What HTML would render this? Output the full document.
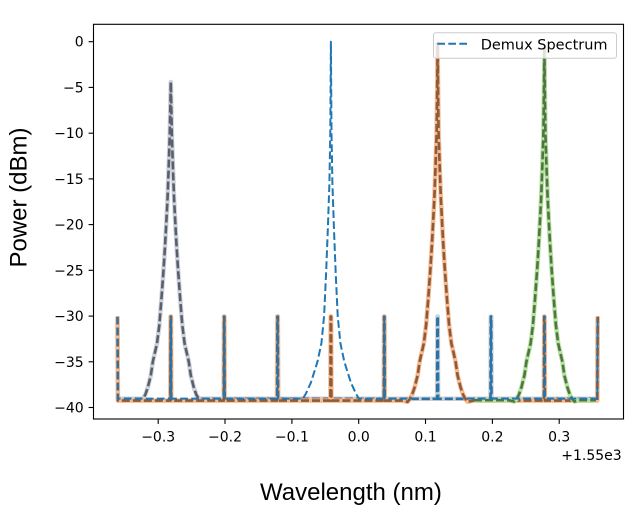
<!DOCTYPE html>
<html>
<head>
<meta charset="utf-8">
<style>
html,body{margin:0;padding:0;background:#fff;}
svg{display:block;}
.tk{font-family:"DejaVu Sans","Liberation Sans",sans-serif;font-size:14px;fill:#000;}
.lab{font-family:"Liberation Sans",Arial,sans-serif;font-size:24px;fill:#000;}
</style>
</head>
<body>
<svg width="640" height="516" viewBox="0 0 640 516" xmlns="http://www.w3.org/2000/svg">
<rect x="0" y="0" width="640" height="516" fill="#fff"/>

<!-- Gray channel -->
<g fill="none" stroke-linejoin="round">
<path d="M117.5 316.5 L117.9 398.8 L142.8 398.8 L145.3 394.7 L147.8 387.4 L150.8 375.5 L152.8 361.8 L157.0 343.5 L159.3 325.2 L161.3 300.5 L163.5 270.3 L165.0 246.5 L166.2 224.6 L167.6 197.2 L168.6 169.7 L169.8 133.2 L170.8 82 L171.8 133.2 L173.0 169.7 L174.0 197.2 L175.4 224.6 L176.6 246.5 L178.1 270.3 L180.3 300.5 L182.3 325.2 L184.6 343.5 L188.8 361.8 L190.8 375.5 L193.8 387.4 L196.3 394.7 L198.8 398.8 L277.1 398.8 L277.4 316.5 L277.8 316.5 L278.1 398.8 L437.1 398.8 L437.4 316.5 L437.8 316.5 L438.1 398.8 L490.5 398.8 L490.8 316.5 L491.2 316.5 L491.5 398.8 L597.3 398.8 L597.7 316.5" stroke="#ccd2dc" stroke-width="4.5"/>
<path d="M117.5 316.5 L117.9 398.8 L142.8 398.8 L145.3 394.7 L147.8 387.4 L150.8 375.5 L152.8 361.8 L157.0 343.5 L159.3 325.2 L161.3 300.5 L163.5 270.3 L165.0 246.5 L166.2 224.6 L167.6 197.2 L168.6 169.7 L169.8 133.2 L170.8 82 L171.8 133.2 L173.0 169.7 L174.0 197.2 L175.4 224.6 L176.6 246.5 L178.1 270.3 L180.3 300.5 L182.3 325.2 L184.6 343.5 L188.8 361.8 L190.8 375.5 L193.8 387.4 L196.3 394.7 L198.8 398.8 L277.1 398.8 L277.4 316.5 L277.8 316.5 L278.1 398.8 L437.1 398.8 L437.4 316.5 L437.8 316.5 L438.1 398.8 L490.5 398.8 L490.8 316.5 L491.2 316.5 L491.5 398.8 L597.3 398.8 L597.7 316.5" stroke="#5a5f69" stroke-width="2.6" stroke-dasharray="8 3"/>
</g>

<!-- Orange channel -->
<g fill="none" stroke-linejoin="round">
<path d="M117.5 316.5 L117.9 400.6 L170.3 400.6 L170.6 316.5 L171.0 316.5 L171.3 400.6 L223.7 400.6 L224.0 316.5 L224.4 316.5 L224.7 400.6 L277.1 400.6 L277.4 316.5 L277.8 316.5 L278.1 400.6 L330.4 400.6 L330.7 316.5 L331.1 316.5 L331.4 400.6 L383.8 400.6 L384.1 316.5 L384.5 316.5 L384.8 400.6 L401.6 400.6 L407.6 401.8 L409.6 399.3 L412.1 394.7 L414.6 387.4 L417.6 375.5 L419.6 361.8 L423.8 343.5 L426.1 325.2 L428.1 300.5 L430.3 270.3 L431.8 246.5 L433.0 224.6 L434.4 197.2 L435.4 169.7 L436.6 133.2 L437.2 87.4 L437.6 43.5 L438.0 87.4 L438.6 133.2 L439.8 169.7 L440.8 197.2 L442.2 224.6 L443.4 246.5 L444.9 270.3 L447.1 300.5 L449.1 325.2 L451.4 343.5 L455.6 361.8 L457.6 375.5 L460.6 387.4 L463.1 394.7 L465.6 399.3 L467.6 401.8 L473.6 400.6 L543.9 400.6 L544.2 316.5 L544.6 316.5 L544.9 400.6 L597.3 400.6 L597.7 316.5" stroke="#f7bb91" stroke-width="4.5"/>
<path d="M117.5 316.5 L117.9 400.6 L170.3 400.6 L170.6 316.5 L171.0 316.5 L171.3 400.6 L223.7 400.6 L224.0 316.5 L224.4 316.5 L224.7 400.6 L277.1 400.6 L277.4 316.5 L277.8 316.5 L278.1 400.6 L330.4 400.6 L330.7 316.5 L331.1 316.5 L331.4 400.6 L383.8 400.6 L384.1 316.5 L384.5 316.5 L384.8 400.6 L401.6 400.6 L407.6 401.8 L409.6 399.3 L412.1 394.7 L414.6 387.4 L417.6 375.5 L419.6 361.8 L423.8 343.5 L426.1 325.2 L428.1 300.5 L430.3 270.3 L431.8 246.5 L433.0 224.6 L434.4 197.2 L435.4 169.7 L436.6 133.2 L437.2 87.4 L437.6 43.5 L438.0 87.4 L438.6 133.2 L439.8 169.7 L440.8 197.2 L442.2 224.6 L443.4 246.5 L444.9 270.3 L447.1 300.5 L449.1 325.2 L451.4 343.5 L455.6 361.8 L457.6 375.5 L460.6 387.4 L463.1 394.7 L465.6 399.3 L467.6 401.8 L473.6 400.6 L543.9 400.6 L544.2 316.5 L544.6 316.5 L544.9 400.6 L597.3 400.6 L597.7 316.5" stroke="#8d5a3a" stroke-width="2.6" stroke-dasharray="8 3"/>
</g>

<!-- Green channel -->
<g fill="none" stroke-linejoin="round">
<path d="M474 400.2 L508.4 400.2 L514.4 401.5 L516.4 399.3 L518.9 394.7 L521.4 387.4 L524.4 375.5 L526.4 361.8 L530.6 343.5 L532.9 325.2 L534.9 300.5 L537.1 270.3 L538.6 246.5 L539.8 224.6 L541.2 197.2 L542.2 169.7 L543.4 133.2 L544.0 87.4 L544.4 48 L544.8 87.4 L545.4 133.2 L546.6 169.7 L547.6 197.2 L549.0 224.6 L550.2 246.5 L551.7 270.3 L553.9 300.5 L555.9 325.2 L558.2 343.5 L562.4 361.8 L564.4 375.5 L567.4 387.4 L569.9 394.7 L572.4 399.3 L574.4 401.5 L580.4 400.2 L596 400.2" stroke="#b2e49a" stroke-width="4.5"/>
<path d="M474 400.2 L508.4 400.2 L514.4 401.5 L516.4 399.3 L518.9 394.7 L521.4 387.4 L524.4 375.5 L526.4 361.8 L530.6 343.5 L532.9 325.2 L534.9 300.5 L537.1 270.3 L538.6 246.5 L539.8 224.6 L541.2 197.2 L542.2 169.7 L543.4 133.2 L544.0 87.4 L544.4 48 L544.8 87.4 L545.4 133.2 L546.6 169.7 L547.6 197.2 L549.0 224.6 L550.2 246.5 L551.7 270.3 L553.9 300.5 L555.9 325.2 L558.2 343.5 L562.4 361.8 L564.4 375.5 L567.4 387.4 L569.9 394.7 L572.4 399.3 L574.4 401.5 L580.4 400.2 L596 400.2" stroke="#54724a" stroke-width="2.6" stroke-dasharray="8 3"/>
</g>

<!-- Blue demux spectrum -->
<path d="M117.5 316.5 L117.9 398.6 L170.3 398.6 L170.6 316.5 L171.0 316.5 L171.3 398.6 L223.7 398.6 L224.0 316.5 L224.4 316.5 L224.7 398.6 L277.1 398.6 L277.4 316.5 L277.8 316.5 L278.1 398.6 L302.9 398.6 L305.9 393.6 L310.9 382.6 L317.5 361.6 L321.4 343.3 L324.1 315.9 L326.1 273.0 L327.8 230.0 L329.4 183.4 L330.3 133.1 L330.6 87.4 L330.9 41.7 L331.2 87.4 L331.5 133.1 L332.4 183.4 L334.0 230.0 L335.7 273.0 L337.7 315.9 L340.4 343.3 L344.3 361.6 L350.9 382.6 L355.9 393.6 L358.9 398.6 L383.8 398.6 L384.1 316.5 L384.5 316.5 L384.8 398.6 L437.1 398.6 L437.4 316.5 L437.8 316.5 L438.1 398.6 L490.5 398.6 L490.8 316.5 L491.2 316.5 L491.5 398.6 L543.9 398.6 L544.2 316.5 L544.6 316.5 L544.9 398.6 L597.3 398.6 L597.7 316.5" fill="none" stroke="#1f77b4" stroke-width="2" stroke-dasharray="7.7 3.3" stroke-linejoin="round"/>

<!-- Axes frame -->
<rect x="93.5" y="24.3" width="530" height="394.7" fill="none" stroke="#000" stroke-width="1.1"/>

<!-- Y ticks -->
<g stroke="#000" stroke-width="1.1">
<line x1="88.6" y1="41.7" x2="93.5" y2="41.7"/>
<line x1="88.6" y1="87.4" x2="93.5" y2="87.4"/>
<line x1="88.6" y1="133.2" x2="93.5" y2="133.2"/>
<line x1="88.6" y1="178.9" x2="93.5" y2="178.9"/>
<line x1="88.6" y1="224.6" x2="93.5" y2="224.6"/>
<line x1="88.6" y1="270.3" x2="93.5" y2="270.3"/>
<line x1="88.6" y1="316.1" x2="93.5" y2="316.1"/>
<line x1="88.6" y1="361.8" x2="93.5" y2="361.8"/>
<line x1="88.6" y1="407.5" x2="93.5" y2="407.5"/>
</g>
<g class="tk" text-anchor="end">
<text x="83.7" y="46.7">0</text>
<text x="83.7" y="92.4">−5</text>
<text x="83.7" y="138.2">−10</text>
<text x="83.7" y="183.9">−15</text>
<text x="83.7" y="229.6">−20</text>
<text x="83.7" y="275.3">−25</text>
<text x="83.7" y="321.1">−30</text>
<text x="83.7" y="366.8">−35</text>
<text x="83.7" y="412.5">−40</text>
</g>

<!-- X ticks -->
<g stroke="#000" stroke-width="1.1">
<line x1="158.2" y1="419" x2="158.2" y2="423.9"/>
<line x1="225.0" y1="419" x2="225.0" y2="423.9"/>
<line x1="291.9" y1="419" x2="291.9" y2="423.9"/>
<line x1="358.7" y1="419" x2="358.7" y2="423.9"/>
<line x1="425.5" y1="419" x2="425.5" y2="423.9"/>
<line x1="492.4" y1="419" x2="492.4" y2="423.9"/>
<line x1="559.2" y1="419" x2="559.2" y2="423.9"/>
</g>
<g class="tk" text-anchor="middle">
<text x="158.2" y="441.6">−0.3</text>
<text x="225.0" y="441.6">−0.2</text>
<text x="291.9" y="441.6">−0.1</text>
<text x="358.7" y="441.6">0.0</text>
<text x="425.5" y="441.6">0.1</text>
<text x="492.4" y="441.6">0.2</text>
<text x="559.2" y="441.6">0.3</text>
</g>
<text class="tk" x="621.7" y="460" text-anchor="end">+1.55e3</text>

<!-- Axis labels -->
<text class="lab" x="260" y="500">Wavelength (nm)</text>
<text class="lab" x="26.7" y="197.5" text-anchor="middle" transform="rotate(-90 26.7 197.5)">Power (dBm)</text>

<!-- Legend -->
<rect x="433.5" y="32.7" width="183" height="25.6" rx="2.5" ry="2.5" fill="#fff" fill-opacity="0.8" stroke="#cccccc" stroke-width="1"/>
<line x1="437.3" y1="43.8" x2="468.3" y2="43.8" stroke="#1f77b4" stroke-width="2" stroke-dasharray="7.7 3.3"/>
<text class="tk" x="480.7" y="49.5" style="font-size:14.5px">Demux Spectrum</text>
</svg>
</body>
</html>
